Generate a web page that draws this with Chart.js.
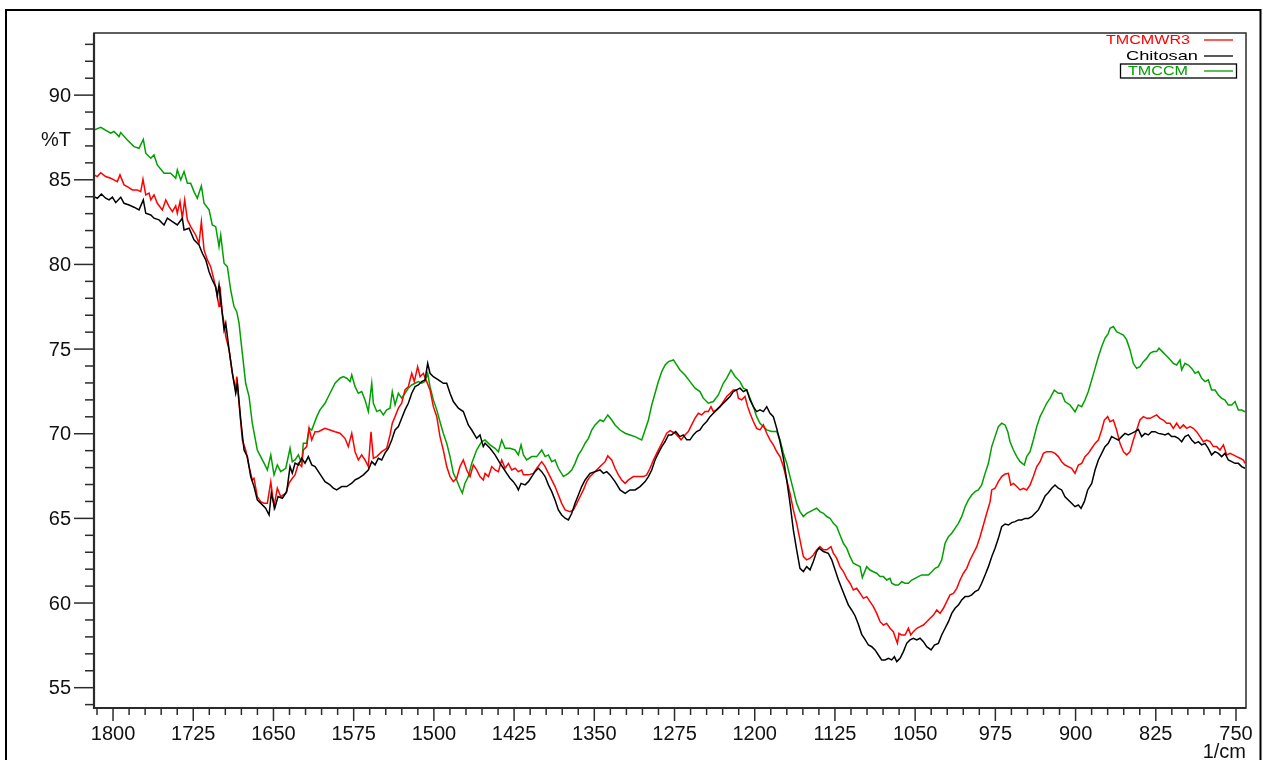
<!DOCTYPE html>
<html><head><meta charset="utf-8">
<script src="https://cdn.jsdelivr.net/npm/chart.js@4.4.0/dist/chart.umd.min.js"></script>
<style>html,body{margin:0;padding:0;background:#fff;overflow:hidden}canvas{display:block}</style>
</head><body><canvas id="c" width="1263" height="760"></canvas>
<script>
// ---- data ----
const xTickLabels = [1800,1725,1650,1575,1500,1425,1350,1275,1200,1125,1050,975,900,825,750];
const yTickLabels = [55,60,65,70,75,80,85,90];
const seriesNames = ['TMCMWR3','Chitosan','TMCCM'];

const tmcmwr3Wn = [1817.8,1814.7,1811.5,1806.9,1802.2,1799.1,1796.0,1793.5,1789.7,1786.6,1781.9,1777.3,1774.1,1772.0,1769.4,1766.3,1764.7,1761.7,1758.6,1753.9,1750.7,1747.6,1744.5,1741.4,1739.9,1737.4,1735.2,1733.0,1730.5,1727.4,1722.7,1719.6,1717.4,1714.9,1711.8,1708.7,1705.6,1703.0,1700.9,1700.0,1697.8,1696.2,1694.6,1691.5,1688.4,1685.3,1684.3,1682.2,1679.1,1676.0,1672.8,1669.8,1668.2,1665.1,1662.0,1658.8,1655.7,1652.5,1649.5,1646.4,1643.2,1638.5,1635.4,1632.4,1629.8,1626.7,1623.6,1622.1,1618.9,1616.7,1614.2,1611.1,1608.0,1604.9,1601.8,1597.1,1592.4,1587.8,1583.1,1580.0,1576.8,1573.7,1570.6,1567.5,1564.4,1561.3,1558.8,1556.6,1553.4,1548.8,1544.1,1541.0,1538.9,1536.3,1533.2,1530.1,1527.0,1523.9,1520.7,1518.3,1515.2,1512.9,1509.9,1506.7,1503.6,1500.5,1497.3,1494.3,1491.2,1488.0,1484.9,1481.8,1478.7,1475.6,1472.5,1469.3,1466.2,1463.1,1460.0,1456.9,1453.8,1452.1,1449.0,1445.9,1442.8,1439.7,1436.6,1433.4,1430.3,1427.2,1424.1,1421.0,1417.9,1416.3,1411.6,1407.0,1403.8,1399.2,1396.0,1392.9,1389.8,1386.7,1383.6,1380.5,1377.3,1372.7,1369.6,1366.4,1363.3,1360.2,1357.1,1354.0,1349.3,1344.6,1339.9,1337.4,1333.7,1330.6,1327.5,1324.4,1321.2,1318.1,1313.4,1308.8,1304.1,1301.0,1297.9,1294.7,1291.6,1288.5,1285.4,1282.3,1279.2,1277.7,1274.5,1271.4,1268.9,1265.2,1262.1,1259.0,1255.8,1252.7,1249.6,1246.5,1243.4,1240.9,1238.7,1235.6,1232.5,1229.4,1226.2,1223.1,1220.0,1216.9,1215.3,1212.2,1209.1,1206.6,1204.4,1201.3,1198.2,1195.1,1191.9,1188.8,1185.7,1182.6,1179.5,1176.4,1173.2,1170.1,1167.0,1163.9,1160.8,1157.7,1154.5,1151.4,1148.3,1145.2,1142.1,1139.0,1135.8,1132.7,1128.7,1126.5,1123.4,1120.3,1117.1,1114.0,1110.9,1107.8,1104.7,1101.5,1098.4,1095.3,1092.2,1089.1,1085.9,1082.8,1079.7,1076.6,1073.5,1070.4,1068.8,1066.6,1065.1,1062.6,1059.4,1056.3,1054.1,1051.7,1048.5,1045.4,1042.3,1039.2,1036.1,1032.9,1029.8,1026.7,1023.6,1020.5,1017.4,1014.2,1011.1,1008.0,1004.9,1001.8,998.7,995.5,992.4,989.3,986.2,983.1,979.9,978.4,975.3,972.2,969.1,965.9,962.8,960.6,958.1,955.0,951.9,948.8,945.7,942.6,939.5,936.3,933.2,930.1,927.0,922.4,919.2,916.1,913.0,909.9,906.8,903.7,900.5,897.4,894.3,891.2,888.1,884.9,881.8,878.7,875.6,873.1,870.0,867.8,864.7,861.6,858.5,855.3,852.2,849.1,846.0,842.9,839.8,836.6,833.5,830.4,827.3,824.2,821.1,818.0,814.8,811.7,808.6,805.5,802.4,799.2,796.1,793.0,789.9,786.8,783.7,780.5,777.4,774.3,771.2,768.1,765.0,761.8,758.7,755.6,752.5,749.4,746.2,743.1,741.6];
const tmcmwr3T = [85.29,85.19,85.42,85.19,85.09,84.99,84.89,85.29,84.70,84.60,84.40,84.40,84.30,85.03,84.11,84.21,83.81,84.11,83.61,83.22,83.81,83.41,83.12,83.46,83.02,83.71,82.73,83.81,82.63,82.23,81.74,81.25,82.53,80.86,80.27,79.87,79.08,78.30,77.51,78.69,77.12,76.53,75.74,74.95,73.57,72.59,73.37,71.80,69.63,69.04,68.06,67.27,67.37,66.29,65.99,65.90,65.90,67.17,65.70,66.78,66.29,66.49,67.08,67.37,67.57,68.26,68.06,69.04,69.24,70.32,69.63,70.12,70.12,70.22,70.32,70.22,70.12,70.03,69.73,69.24,70.03,68.94,68.45,68.75,68.45,68.06,70.12,68.55,68.65,68.94,69.14,69.93,70.62,71.01,71.51,71.80,72.59,72.78,73.57,73.08,73.96,73.37,73.57,73.08,72.59,71.60,71.01,69.83,69.04,68.06,67.47,67.17,67.37,68.06,68.45,67.86,67.47,68.16,67.86,67.47,67.27,67.66,67.47,68.06,67.86,67.76,68.45,67.96,68.25,67.86,67.96,67.76,67.86,67.57,67.57,67.66,67.96,68.35,68.06,67.66,67.27,66.88,66.38,65.89,65.50,65.40,65.50,65.89,66.29,66.68,67.17,67.47,67.76,68.06,68.35,68.69,68.45,67.96,67.57,67.27,67.07,67.27,67.47,67.47,67.47,67.57,67.96,68.45,68.85,69.24,69.63,70.03,70.18,70.13,70.03,69.83,69.64,69.93,70.13,70.52,70.92,71.21,71.11,71.31,71.31,71.60,71.31,71.41,71.60,71.90,72.20,72.39,72.59,72.59,72.10,72.00,72.20,71.60,71.21,70.72,70.32,70.23,70.52,70.03,69.64,69.34,68.95,68.65,68.06,67.27,66.48,65.50,64.71,63.73,62.74,62.55,62.65,62.84,63.14,63.33,63.14,63.14,63.33,62.94,62.65,62.15,61.86,61.46,61.17,60.77,60.87,60.58,60.28,60.38,60.08,59.79,59.39,58.90,58.70,58.80,58.51,58.31,58.01,57.62,58.21,58.11,58.11,58.51,58.11,58.31,58.51,58.61,58.70,58.90,59.10,59.29,59.59,59.39,59.69,60.08,60.48,60.57,60.87,61.36,61.76,62.05,62.54,62.94,63.33,63.92,64.61,65.30,65.99,66.68,66.78,67.17,67.47,67.62,67.66,66.97,67.07,66.88,66.68,66.78,66.68,66.97,67.47,68.06,68.35,68.84,68.94,68.94,68.84,68.65,68.35,68.15,68.06,67.96,67.66,68.15,68.25,68.65,68.84,69.14,69.43,69.63,70.22,70.81,71.01,70.71,70.81,70.22,69.43,68.94,68.75,68.94,69.63,70.22,70.81,71.01,70.91,70.91,71.01,71.11,70.91,70.81,70.62,70.62,70.32,70.62,70.32,70.52,70.32,70.42,70.32,70.12,69.83,69.53,69.63,69.53,69.24,69.24,69.04,69.34,68.75,68.84,68.75,68.65,68.55,68.45,68.25];

const chitosanWn = [1817.8,1814.7,1810.9,1806.9,1803.7,1800.6,1797.5,1792.8,1789.7,1785.0,1780.4,1775.7,1771.7,1769.4,1764.7,1761.7,1757.0,1752.3,1749.2,1744.5,1739.9,1735.2,1733.6,1728.9,1724.3,1719.6,1716.5,1713.3,1710.2,1707.2,1704.0,1702.5,1700.9,1699.3,1696.2,1694.6,1691.5,1688.4,1685.3,1683.7,1680.6,1677.5,1674.4,1671.3,1668.2,1665.1,1662.0,1657.3,1654.1,1652.0,1648.8,1645.7,1641.7,1637.6,1634.5,1632.4,1629.8,1626.7,1623.6,1620.5,1617.4,1614.2,1611.1,1608.0,1604.9,1601.8,1597.1,1594.0,1590.9,1586.2,1581.5,1576.8,1573.7,1570.6,1565.9,1561.3,1558.1,1555.0,1551.9,1548.8,1545.7,1542.6,1539.4,1536.3,1533.2,1530.1,1527.0,1523.9,1520.7,1517.6,1514.5,1511.4,1508.3,1505.8,1503.6,1500.5,1495.8,1491.2,1488.0,1484.9,1481.8,1477.1,1472.5,1467.8,1464.6,1460.0,1456.9,1453.8,1452.1,1447.5,1442.8,1438.1,1435.0,1431.9,1428.8,1425.7,1422.5,1421.0,1418.5,1414.7,1411.6,1408.5,1405.4,1402.3,1399.2,1396.0,1392.9,1389.8,1386.7,1383.6,1380.5,1377.3,1374.2,1371.1,1368.0,1364.9,1361.8,1358.6,1354.0,1349.3,1344.6,1341.5,1338.4,1335.3,1330.6,1325.9,1321.2,1316.6,1311.9,1307.2,1302.5,1299.4,1296.3,1293.2,1290.1,1286.9,1283.8,1280.7,1277.7,1273.9,1269.9,1266.8,1263.6,1260.5,1257.4,1254.3,1251.2,1248.1,1244.9,1241.8,1238.7,1235.6,1232.5,1229.4,1226.2,1223.1,1220.0,1216.9,1213.8,1210.6,1207.5,1204.4,1201.3,1198.2,1195.1,1191.9,1188.8,1185.7,1182.6,1179.5,1176.4,1173.2,1170.1,1167.0,1163.9,1160.8,1157.7,1154.5,1151.4,1148.3,1145.2,1142.1,1139.9,1135.8,1131.2,1128.0,1124.9,1121.8,1118.7,1115.6,1112.5,1109.4,1106.2,1103.1,1100.0,1096.9,1093.7,1090.6,1087.5,1084.4,1081.3,1078.1,1075.0,1071.9,1069.4,1067.2,1064.1,1061.0,1057.9,1054.8,1051.7,1048.5,1045.4,1042.3,1039.2,1035.1,1032.0,1028.3,1025.2,1022.0,1018.9,1015.8,1012.7,1009.6,1006.5,1003.3,1000.2,997.1,994.0,990.9,987.8,984.6,981.5,978.4,975.3,972.2,969.1,965.9,962.8,959.7,956.6,953.5,950.4,947.2,944.1,941.0,937.9,934.8,931.7,928.5,925.4,922.3,919.2,916.1,913.0,909.9,906.8,903.7,900.5,897.4,894.9,891.8,888.7,884.9,881.8,878.7,875.6,872.5,869.4,866.3,863.1,860.0,856.9,853.8,850.7,847.6,844.4,841.3,838.2,835.1,832.0,828.9,825.7,822.6,819.5,816.4,813.3,810.2,807.0,803.9,800.8,797.7,794.6,791.4,788.3,785.2,782.1,779.0,775.9,772.8,769.6,766.5,763.4,760.3,757.2,754.0,750.9,747.8,744.7,741.6];
const chitosanT = [84.00,83.91,84.16,83.91,83.81,83.97,83.65,83.97,83.61,83.51,83.38,83.22,83.81,83.02,82.92,82.73,82.63,82.33,82.73,82.53,82.33,82.73,82.04,82.14,81.45,81.15,80.66,80.27,79.57,79.08,78.69,78.10,78.79,77.90,76.13,76.53,74.95,73.57,72.39,72.98,70.82,69.04,68.65,67.47,66.88,66.09,65.90,65.60,65.20,66.49,65.60,66.29,66.19,66.58,68.06,67.67,68.26,68.16,68.55,68.26,68.65,68.16,68.06,67.76,67.47,67.17,66.98,66.78,66.68,66.88,66.88,67.08,67.27,67.37,67.57,67.86,68.35,68.16,68.55,68.45,68.85,69.14,69.63,70.22,70.42,70.92,71.41,71.80,72.39,72.78,72.88,73.08,73.18,74.16,73.57,73.37,73.18,72.98,72.98,72.39,71.90,71.51,71.31,70.52,70.22,69.73,69.93,69.24,69.44,69.14,68.75,68.25,67.96,67.66,67.37,67.17,66.88,66.68,67.07,66.98,67.17,67.47,67.76,67.96,67.76,67.47,66.98,66.58,66.09,65.50,65.20,65.01,64.91,65.30,65.89,66.38,66.88,67.27,67.66,67.76,67.86,67.66,67.76,67.57,67.17,66.68,66.48,66.68,66.68,66.88,67.17,67.47,67.86,68.45,68.85,69.24,69.54,69.93,69.93,70.13,69.83,69.93,69.64,69.64,69.93,70.13,70.23,70.52,70.72,71.01,71.21,71.41,71.60,71.80,72.00,72.20,72.49,72.59,72.69,72.49,72.59,72.00,71.60,71.31,71.41,71.31,71.60,71.21,71.01,70.32,69.54,68.55,67.27,65.89,64.32,63.14,62.05,61.86,62.15,61.96,62.45,63.04,63.24,63.04,62.94,62.55,61.96,61.37,60.87,60.38,59.89,59.59,59.25,58.75,58.15,57.85,57.52,57.42,57.23,56.93,56.64,56.64,56.74,56.64,56.83,56.54,56.74,57.13,57.62,57.82,57.92,57.82,57.92,57.72,57.42,57.23,57.52,57.62,58.11,58.51,58.90,59.39,59.69,59.88,60.18,60.38,60.38,60.48,60.67,60.77,61.17,61.66,62.15,62.74,63.23,63.82,64.51,64.67,64.61,64.75,64.81,64.91,64.91,65.00,65.00,65.10,65.30,65.50,65.89,66.33,66.53,66.78,66.97,66.78,66.68,66.28,66.09,65.89,65.69,65.79,65.59,65.99,66.68,67.07,67.86,68.45,68.84,69.24,69.43,69.83,69.73,69.63,69.83,70.02,69.93,70.02,70.12,70.26,69.83,70.02,69.93,70.12,70.12,70.02,69.99,69.93,70.02,69.83,69.83,69.73,69.53,69.83,69.93,69.63,69.43,69.53,69.34,69.43,69.14,68.75,68.94,68.84,68.65,68.84,68.45,68.35,68.25,68.25,68.06,67.96];

const tmccmWn = [1817.8,1811.5,1802.2,1799.1,1794.4,1792.8,1786.6,1780.4,1775.7,1771.7,1769.4,1764.7,1761.7,1758.6,1752.3,1746.1,1741.4,1739.9,1736.7,1733.6,1730.5,1727.4,1724.3,1721.2,1717.4,1714.9,1710.2,1707.2,1704.0,1700.9,1699.3,1696.2,1693.1,1690.0,1686.9,1684.3,1682.2,1679.1,1676.0,1672.8,1669.8,1665.1,1662.0,1658.8,1655.7,1652.5,1649.5,1646.4,1643.2,1638.5,1634.5,1632.4,1629.8,1626.7,1623.6,1622.1,1618.9,1616.7,1614.2,1609.5,1606.5,1601.8,1597.1,1592.4,1587.8,1584.7,1581.5,1578.4,1576.8,1573.7,1570.6,1567.5,1564.4,1561.3,1558.1,1556.6,1553.4,1550.4,1547.3,1544.1,1541.0,1538.9,1536.3,1533.2,1530.1,1527.0,1523.9,1520.7,1517.6,1514.5,1511.4,1508.3,1505.8,1503.6,1500.5,1497.3,1494.3,1491.2,1488.0,1484.9,1481.8,1478.7,1475.6,1473.4,1470.9,1467.8,1464.6,1460.0,1455.3,1452.2,1447.5,1442.8,1439.7,1436.6,1433.4,1428.8,1424.1,1421.0,1418.5,1416.3,1413.2,1408.5,1403.8,1399.2,1396.0,1392.9,1389.8,1386.7,1383.6,1378.9,1374.2,1371.1,1368.0,1364.9,1361.8,1358.6,1355.5,1352.4,1349.3,1344.6,1341.5,1337.4,1333.7,1330.6,1325.9,1321.2,1316.6,1311.9,1308.8,1305.7,1302.5,1299.4,1296.3,1293.2,1290.1,1286.9,1283.8,1280.7,1276.0,1269.9,1265.2,1260.5,1255.8,1251.2,1248.1,1243.4,1238.7,1234.0,1229.4,1226.2,1222.2,1218.4,1213.8,1210.6,1207.5,1204.4,1201.3,1198.2,1195.1,1191.9,1188.8,1184.2,1179.5,1176.4,1173.2,1170.1,1167.0,1163.9,1160.8,1157.7,1154.5,1151.4,1148.3,1145.2,1142.1,1139.0,1135.8,1132.7,1129.6,1126.5,1123.4,1120.3,1117.1,1114.0,1110.9,1107.8,1104.7,1101.5,1099.4,1095.3,1092.2,1089.1,1085.9,1082.8,1079.7,1076.6,1073.5,1071.9,1068.8,1065.7,1062.6,1059.4,1056.3,1053.2,1050.1,1047.0,1043.9,1040.7,1037.6,1034.5,1031.4,1028.3,1025.2,1022.0,1018.9,1015.8,1012.7,1009.6,1006.5,1003.3,1000.2,997.1,994.0,990.9,987.8,984.6,981.5,978.4,975.3,972.2,969.1,965.9,963.4,961.3,958.1,955.0,951.9,947.9,945.7,942.6,939.5,936.3,933.2,930.1,927.0,923.9,919.9,916.1,913.0,909.9,905.2,900.5,897.4,894.3,891.2,888.1,884.9,881.8,878.7,875.6,872.5,869.4,867.8,864.7,861.6,858.5,855.3,852.2,849.1,846.0,842.9,839.8,836.6,833.5,830.4,827.3,824.2,822.0,818.9,815.8,812.6,808.6,805.5,802.4,800.8,797.7,794.6,791.4,788.3,785.2,782.1,779.0,775.9,772.8,769.6,766.5,763.4,760.3,757.2,754.0,750.9,747.8,744.7,741.6];
const tmccmT = [87.94,88.10,87.75,87.85,87.55,87.79,87.35,86.96,86.86,87.39,86.57,86.27,86.47,85.88,85.39,85.39,85.09,85.58,84.99,85.48,84.80,84.80,84.30,83.91,84.64,83.61,83.22,82.33,82.23,81.05,81.74,80.07,79.87,78.49,77.51,77.21,76.53,74.75,72.98,72.19,70.62,69.04,68.65,68.26,67.86,68.75,67.57,68.16,67.76,67.96,69.14,68.35,68.45,68.75,68.26,69.44,69.44,70.32,70.22,71.01,71.41,71.80,72.39,72.98,73.28,73.37,73.28,73.08,73.47,72.78,72.39,72.49,72.00,71.31,72.98,71.80,71.31,71.41,71.11,71.41,71.51,72.49,71.70,72.39,72.10,72.39,72.69,72.88,72.98,73.08,72.98,73.08,73.57,72.78,72.00,71.41,70.71,70.03,69.44,68.65,67.67,67.27,66.78,66.49,67.08,67.47,68.26,69.04,69.53,69.63,69.34,69.14,68.94,69.63,69.14,69.14,69.04,68.75,69.34,68.75,68.45,68.65,68.65,69.04,68.65,68.75,68.35,68.45,67.96,67.47,67.66,67.86,68.25,68.75,69.04,69.44,69.73,70.22,70.52,70.81,70.72,71.11,70.81,70.52,70.22,70.03,69.93,69.83,69.73,69.63,70.22,70.81,71.70,72.39,73.08,73.67,74.06,74.26,74.36,73.77,73.47,73.08,72.69,72.49,72.10,71.80,71.90,72.29,72.98,73.28,73.77,73.38,73.08,72.69,72.59,72.10,71.60,71.01,70.62,70.42,70.23,70.13,70.13,69.64,68.85,68.26,67.47,66.68,65.89,65.40,65.11,65.30,65.40,65.50,65.60,65.40,65.30,65.11,65.01,64.71,64.52,64.02,63.53,63.24,62.74,62.35,62.25,62.15,61.50,62.15,61.95,61.85,61.76,61.56,61.56,61.36,61.46,61.17,61.07,61.07,61.26,61.17,61.17,61.36,61.46,61.56,61.66,61.66,61.66,61.85,62.05,62.15,62.54,63.53,63.92,64.12,64.41,64.71,65.10,65.69,66.09,66.38,66.58,66.68,66.97,67.66,68.25,69.24,69.83,70.42,70.62,70.52,70.12,69.53,69.04,68.65,68.35,68.15,68.65,68.94,69.63,70.42,71.01,71.40,71.80,72.09,72.58,72.39,72.39,71.90,71.70,71.30,71.70,71.60,71.99,72.49,73.18,73.86,74.55,75.14,75.64,75.93,76.23,76.33,76.03,75.93,75.83,75.54,74.95,74.16,73.86,73.96,74.26,74.45,74.75,74.85,74.85,75.05,74.85,74.65,74.45,74.16,74.06,74.36,73.77,74.16,74.06,73.86,73.57,73.67,73.27,73.08,73.18,72.58,72.58,72.29,72.09,71.99,71.70,71.70,71.90,71.40,71.40,71.30];

// ---- helpers ----
function toPoints(wn, t){ return wn.map((w,i)=>({x:w, y:t[i]})); }

const FONT = '"Liberation Sans", Arial, Helvetica, sans-serif';

const ftirAxes = {
  id: 'ftirAxes',
  beforeDraw(chart){
    const ctx = chart.ctx;
    ctx.save(); ctx.fillStyle = '#fff'; ctx.fillRect(0,0,chart.width,chart.height); ctx.restore();
  },
  afterDraw(chart){
    const ctx = chart.ctx, a = chart.chartArea, xs = chart.scales.x, ys = chart.scales.y;
    ctx.save();
    // outer frame
    ctx.strokeStyle = '#000'; ctx.lineWidth = 2;
    ctx.strokeRect(6, 10, 1254.5, 780);
    // plot box
    ctx.strokeStyle = '#2b2b2b'; ctx.lineWidth = 1.5;
    ctx.strokeRect(a.left, a.top, a.right - a.left, a.bottom - a.top);
    ctx.lineWidth = 2.2;
    ctx.beginPath(); ctx.moveTo(a.left, a.top); ctx.lineTo(a.left, a.bottom + 1); ctx.stroke();
    ctx.beginPath(); ctx.moveTo(a.left - 1, a.bottom); ctx.lineTo(a.right, a.bottom); ctx.stroke();

    // y ticks
    ctx.lineWidth = 1.5; ctx.strokeStyle = '#2b2b2b';
    for (let v = Math.ceil(ys.min); v <= Math.floor(ys.max); v++) {
      const py = ys.getPixelForValue(v);
      const major = yTickLabels.includes(v);
      ctx.beginPath(); ctx.moveTo(a.left - (major ? 20 : 9), py); ctx.lineTo(a.left, py); ctx.stroke();
    }
    // x ticks
    for (let v = 750; v <= xs.max; v += 15) {
      const px = xs.getPixelForValue(v);
      const major = xTickLabels.includes(v);
      ctx.beginPath(); ctx.moveTo(px, a.bottom); ctx.lineTo(px, a.bottom + (major ? 13 : 7)); ctx.stroke();
    }
    // labels
    ctx.fillStyle = '#111';
    ctx.font = '20px ' + FONT;
    ctx.textAlign = 'right'; ctx.textBaseline = 'middle';
    yTickLabels.forEach(v => ctx.fillText(String(v), 71, ys.getPixelForValue(v) + 1));
    ctx.fillText('%T', 71, 140);
    ctx.textAlign = 'center';
    xTickLabels.forEach(v => ctx.fillText(String(v), xs.getPixelForValue(v), 734));
    ctx.textAlign = 'right';
    ctx.fillText('1/cm', 1246, 752);

    // legend
    const colors = chart.data.datasets.map(d => d.borderColor);
    const leg = [
      {i:0, y:40, left:1106, right:1190},
      {i:1, y:56, left:1126, right:1198},
      {i:2, y:71, left:1128, right:1188}
    ];
    ctx.font = '13.5px ' + FONT;
    ctx.textAlign = 'left'; ctx.textBaseline = 'middle';
    leg.forEach(l => {
      const ds = chart.data.datasets[l.i];
      const w = ctx.measureText(ds.label).width;
      const sx = (l.right - l.left) / w;
      ctx.save();
      ctx.translate(l.left, l.y + 0.5);
      ctx.scale(sx, 1);
      ctx.fillStyle = ds.borderColor;
      ctx.fillText(ds.label, 0, 0);
      ctx.restore();
      ctx.strokeStyle = ds.borderColor; ctx.lineWidth = 1.3;
      ctx.beginPath(); ctx.moveTo(1204, l.y); ctx.lineTo(1233, l.y); ctx.stroke();
    });
    ctx.strokeStyle = '#000'; ctx.lineWidth = 1.3;
    ctx.strokeRect(1120.5, 64, 116, 14);
    ctx.restore();
  }
};

new Chart(document.getElementById('c'), {
  type: 'line',
  data: {
    datasets: [
      {label: seriesNames[0], data: toPoints(tmcmwr3Wn, tmcmwr3T), borderColor: '#ff0000', borderWidth: 1.5, pointRadius: 0, order: 1},
      {label: seriesNames[1], data: toPoints(chitosanWn, chitosanT), borderColor: '#000000', borderWidth: 1.5, pointRadius: 0, order: 0},
      {label: seriesNames[2], data: toPoints(tmccmWn, tmccmT), borderColor: '#00a000', borderWidth: 1.5, pointRadius: 0, order: 2}
    ]
  },
  options: {
    responsive: false,
    animation: false,
    layout: {padding: {left: 94, top: 33, right: 17, bottom: 52}},
    elements: {line: {tension: 0}},
    scales: {
      x: {type: 'linear', reverse: true, min: 740.65, max: 1817.8, display: false},
      y: {type: 'linear', min: 53.8, max: 93.67, display: false}
    },
    plugins: {legend: {display: false}, tooltip: {enabled: false}}
  },
  plugins: [ftirAxes]
});
</script>
</body></html>
